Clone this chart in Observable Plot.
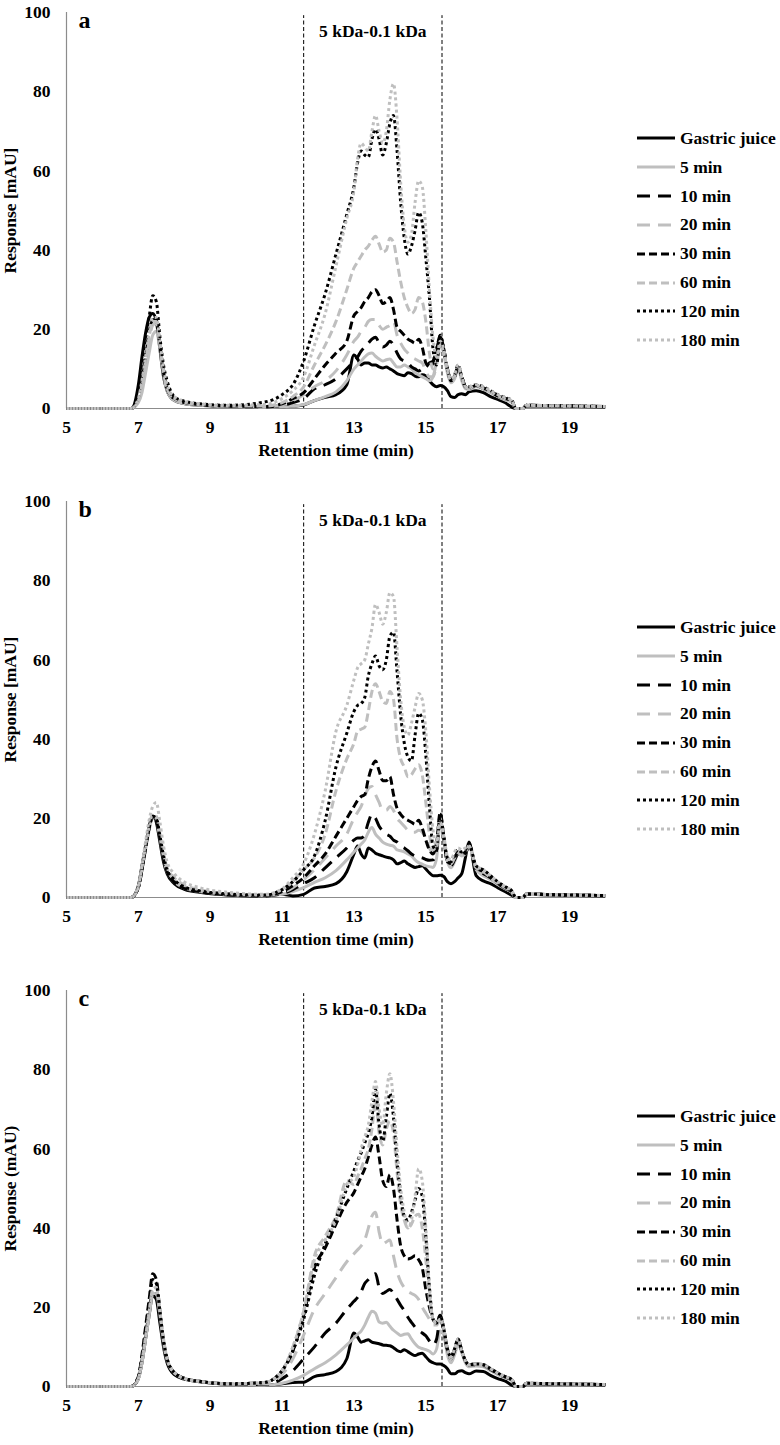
<!DOCTYPE html>
<html><head><meta charset="utf-8">
<script src="https://cdn.jsdelivr.net/npm/d3@7"></script>
<script src="https://cdn.jsdelivr.net/npm/@observablehq/plot@0.6"></script>
<style>
body{margin:0;background:#fff;}
#chart{width:780px;position:relative;font-family:"Liberation Serif","Times New Roman",serif;font-weight:bold;color:#000;}
.panel{position:relative;width:780px;overflow:hidden;}
.legend{position:absolute;left:637px;top:124px;font-size:17.5px;}
.legend .row{height:28.85px;display:flex;align-items:center;white-space:nowrap;}
.legend svg{display:block;margin-right:5px;}
</style></head><body><div id="chart"></div>
<script>
// ---------- data ----------
const times = [5, 6.8, 7.0, 7.1, 7.2, 7.3, 7.4, 7.5, 7.6, 7.7, 7.8, 8.0, 8.3, 8.7, 9.5, 10.5,
  11.0, 11.3, 11.6, 11.9, 12.2, 12.5, 12.8,
  13.0, 13.1, 13.2, 13.3, 13.4, 13.5, 13.6, 13.7, 13.8, 13.9, 14.0, 14.1, 14.2, 14.3, 14.4, 14.5, 14.6, 14.7, 14.8, 14.9, 15.0, 15.1, 15.2, 15.3, 15.4, 15.5, 15.6, 15.7, 15.8, 15.9, 16.0, 16.1, 16.2,
  16.4, 16.6, 16.8, 17.0, 17.2, 17.4, 17.5, 17.7, 17.8, 18.5, 19.2, 20];

const seriesNames = ["Gastric juice", "5 min", "10 min", "20 min", "30 min", "60 min", "120 min", "180 min"];
const panelLetters = ["a", "b", "c"];
const yTitles = ["Response [mAU]", "Response [mAU]", "Response (mAU)"];
const xTitle = "Retention time (min)";
const regionBounds = [11.6, 15.45];
const regionLabel = "5 kDa-0.1 kDa";
const xTicks = [5, 7, 9, 11, 13, 15, 17, 19];
const yTicks = [0, 20, 40, 60, 80, 100];

// panel a
const a_gastric = [0,0,6,13,19,23,24,22,15,8,4.5,2,1.2,0.8,0.5,0.3, 0.4,0.6,0.9,2,2.8,3.5,6,
  13.5,12.5,11,11.5,11.5,11,11,10.5,10.2,10.5,10,9.5,8.8,8.5,8.3,9,8.8,8.2,8,8.5,8.2,7,6,5.5,5.8,5.5,4.5,3,2.8,3.5,3.7,3.5,4.2,
  4.5,4,3,2.3,1.5,0.3,0,0,0.7,0.6,0.5,0.4];
const a_5 = [0,0,1.5,4,9,14,18.5,19.5,15,8.5,4.5,2,1.2,0.8,0.5,0.3, 0.4,0.6,1,2,3,4.2,7,
  10,11,12,13,13.8,14,13.2,12.5,12,12.3,12.5,11.5,10.5,10.5,11,10.5,10,9,8.5,8,7.5,7,8,12,16,14,9,6.5,7.5,10,7,5,4.8,
  5.5,5,4,3,2.2,1.5,0,0,0.8,0.7,0.6,0.5];
const a_10 = [0,0,2.5,7,13,19,22.5,22,16,9,5,2.5,1.5,1,0.6,0.4, 0.8,1.5,2.5,5,6,7.5,10,
  12,13,14.5,15.5,16.5,17.5,18,16.5,15.5,16,17,16,14,12.5,12,11.5,10.5,10,9.5,10,10.5,11.5,12,15,18,15,10,7,8,10.5,8,5.5,5,
  5.8,5,4.2,3.2,2.5,1.8,0,0,0.8,0.7,0.6,0.5];
const a_20 = [0,0,2,5.5,11,17,21,21.5,16,9,5,2.5,1.5,1,0.6,0.4, 1,2,3.5,5.5,7,9.5,13.5,
  17,18,19.5,20.5,22,22.5,22.5,21,20,20.5,21,22,18.5,16.5,15,14,13,12.5,12,11.5,9.5,8,8,11,15,14,9.5,7,8,10.5,7.5,5.5,5,
  5.8,5,4.2,3.2,2.5,1.8,0,0,0.8,0.7,0.6,0.5];
const a_30 = [0,0,2.5,7,13,19,22.5,22,16,9,5,2.5,1.5,1,0.6,0.5, 1.2,2.5,4,7.5,11,14,17,
  23.5,24.5,25.5,27,28,29.5,30,28.5,26.5,27,28,25,20.5,19.5,18.5,17.5,17,16.5,17.5,15.5,11.5,10.5,11.5,15,18.5,15,10,7,8,10.5,8,5.5,5,
  5.8,5.2,4.3,3.3,2.6,1.8,0,0,0.8,0.7,0.6,0.5];
const a_60 = [0,0,2,6,12,18,22,22,16,9,5,2.5,1.5,1,0.6,0.6, 1.5,3,5.5,11,16,22,30,
  35.5,37,38.5,40,41,42.5,43.5,41.5,39.5,40,43,42,37,32,28,25.5,24,25,28,27,22,14,10,12,16,14,9.5,7,8,10.5,7.5,5.5,5,
  5.8,5,4.2,3.2,2.5,1.8,0,0,0.8,0.7,0.6,0.5];
const a_120 = [0,0,3,9,16,23,28.5,27,18,11,7,3,1.8,1.2,0.8,1.6, 3.5,6,12,21,29,39,49,
  56,62,65,64,63.5,68,70.5,68,64,67,72,74,65,52,43,39,41,45,49.5,47,38,28,15,11,18.5,15,10,7.5,8.5,11,8,5.5,5.5,
  6,5.5,4.5,3.5,2.8,2,0,0,0.8,0.7,0.6,0.5];
const a_180 = [0,0,2.5,7,13,19,23,23,17,10,6,3,1.8,1.2,0.8,1, 2.5,4.5,8,16,24,36,48,
  55,63,67,66,65,70,74,70,67,70,78,82,73,57,46,42,44,52,57.5,56,45,30,18,13,17,15,10,7.5,8.5,11,8,5.5,5.5,
  6,5.5,4.5,3.5,2.8,2,0,0,0.8,0.7,0.6,0.5];

// panel b
const b_gastric = [0,0,3,8,13,18,20.5,19,14,9,6,3.5,2,1.3,0.6,0.3, 0.8,0.4,0.8,2.4,2.8,3.5,6.5,
  11,13,11,10,12.5,12,11.2,10.8,10.5,10.2,10,9.5,8.5,8.8,9.2,8.5,8,7.6,7.8,8,7.2,6.2,5.5,5.5,5.6,5.3,4,3.5,4,5,6,10,14,
  5.5,4.2,3.5,2.5,1.5,0.5,0,0,0.8,0.6,0.5,0.4];
const b_5 = [0,0,2.5,7,12,17,20,19.5,15,10,6.5,4,2.3,1.5,0.7,0.4, 0.8,1.5,2.5,3.8,5,6.8,9.5,
  11.5,12.5,13.5,14.5,16.5,17.7,16,15,14,13.5,13.2,13,12,11.8,11.5,11,10.5,9.5,8.8,8.4,8,7.8,7.6,10,19,15,9,7.5,9,11,10.5,11,13,
  7,5.5,4.5,3.3,2.2,1.2,0,0,0.9,0.7,0.6,0.5];
const b_10 = [0,0,2.5,7,12.5,17.5,20.5,19.5,15,10,6.5,4,2.3,1.5,0.7,0.4, 1,2,3.5,5,7.5,10,12.5,
  14.5,15,15,16,19,21,20,18,16.8,16,15.5,14.5,14,13,12.5,11.8,11,10.5,10.2,10,9.6,9.4,9.5,12,20,15,9,8,9.5,11,10.5,11,13,
  7,6,5,3.5,2.4,1.3,0,0,0.9,0.7,0.6,0.5];
const b_20 = [0,0,2.5,7,12.5,17.5,20.5,20,15.5,10.5,7,4.5,2.5,1.6,0.8,0.5, 1.2,2.5,4.5,7,10,13,16,
  20,21.5,23,25.5,27.5,28,26,24,22,22,23,22,20,19,18,17,16.5,16.5,17,16.5,15,12.5,11,13,20,15,9.5,8.5,10,11.5,11,11.5,13,
  7.5,6.5,5,3.6,2.5,1.4,0,0,0.9,0.7,0.6,0.5];
const b_30 = [0,0,2.5,7,12.5,17.5,20.5,19.5,15,10,6.5,4,2.3,1.5,0.7,0.5, 1.5,3,5,8,11,15.5,20,
  23,24.5,25.5,26,30,33,34.5,32,29.5,29.5,30.5,26,22.5,21,20,19.5,19,18.5,19.5,17.5,14.5,12,11,14,21.5,15,9,8.5,10,11.5,11,11.5,13.5,
  7.5,6.5,5,3.6,2.5,1.4,0,0,0.9,0.7,0.6,0.5];
const b_60 = [0,0,2.5,7.5,13,18,21,20.5,16,11,7.5,5,3,2,1,0.6, 2,4,7,10,16,27,35,
  39,42,42.5,43,47,52,54,52,49.5,49,52,50,40,35,33,30.5,31,32.5,33.5,31,24,16,12,14,20,15,9.5,8.5,10,11.5,11,11.5,13,
  7.5,6.5,5,3.6,2.5,1.4,0,0,0.9,0.7,0.6,0.5];
const b_120 = [0,0,2.5,7,12.5,17.5,20.5,20,15.5,10.5,7,4.5,2.6,1.7,0.9,0.6, 2,4,7,10.5,19.5,33,41.5,
  47,48.5,49,50.5,56,59,61,58.5,57.5,60,66,67,57,46,39,35.5,34.5,41,46.5,45,36,23,13,12,21,15.5,10,9,11,12,11.5,12,13.5,
  8,7,5.5,4,2.8,1.6,0,0,0.9,0.7,0.6,0.5];
const b_180 = [0,0,3,8,14,19.5,23,24,19,13,9,6,3.8,2.5,1.3,0.8, 2.2,5,8.5,16,27,42,48.5,
  55,58,59,60,64,68,74,72,69,72,77,76,63,50,43,41,44,48,51.5,50,42,28,17,13,19,15.5,10.5,9.5,11.5,12.5,12,12.5,13,
  8,7,5.5,4,2.8,1.6,0,0,0.9,0.7,0.6,0.5];

// panel c
const c_gastric = [0,0,2,6,12,18,23,22,16,10,6,3,1.8,1.2,0.6,0.3, 0.7,1,1.1,2.5,3,3.8,7,
  13.5,12.5,11.2,11.5,11.8,11.2,11,10.8,10.5,10.4,10.3,9.8,9.1,8.8,9.3,8.8,8.2,7.8,8.2,8.4,7.5,6.5,6,5.7,5.7,5.3,4.5,3.2,3.2,3.8,4,3.5,3.2,
  3.9,3.8,2.8,2,1.4,0.3,0,0,0.6,0.5,0.5,0.4];
const c_5 = [0,0,2,6,12,18,23.5,23.5,18,11,6.5,3.5,2,1.3,0.6,0.3, 0.8,1.6,2.8,4.5,6,8,10.5,
  12.3,13.2,14,15.5,17.5,19,18.5,16.3,16,16.2,15.2,14.2,13.5,12.9,13.2,13.3,12,10.8,9.9,9.6,9.3,8.9,8.2,9.5,14,13,8,6,8,10.5,8.5,6,5,
  5.2,5,4,3,2.2,1.4,0,0,0.7,0.6,0.5,0.5];
const c_10 = [0,0,2,6.5,12.5,19,24,24,18,11,6.5,3.5,2,1.3,0.6,0.5, 2,4,7,10,13.5,16,19.5,
  21.5,22.5,24,26,27,28,28.5,25,23.5,24,24.5,23.5,22,20.5,19.2,17.5,16.2,15,14.2,13.5,12.8,11.5,10.5,12,17,14,9,7,9,11.5,9,6.5,5.5,
  5.5,5.3,4.3,3.2,2.4,1.6,0,0,0.8,0.7,0.6,0.5];
const c_20 = [0,0,2,6,12,18,23.5,24,18.5,11.5,7,3.5,2,1.3,0.6,0.6, 3,7,13,19.5,23.5,27.5,31.5,
  33.5,34.5,35.5,37,40,43,44,39,36,36.5,37,33,29,26.5,25,24,23.5,23,22,20,18.5,17,15.5,15.5,17,14,9,7,9,11.5,9,6.5,5.5,
  5.5,5.3,4.3,3.2,2.4,1.6,0,0,0.8,0.7,0.6,0.5];
const c_30 = [0,0,2.5,8,15,22,28.5,27,19,11.5,7,3.5,2,1.3,0.7,1, 4,9,18,30,35,41,46.5,
  49,51,53,55,58,61,63,58,52,50.5,53.5,50,42,35.5,33,32.2,32.5,33,32,30,24.5,20,17,16,18,14.5,9.5,7.5,9.5,12,9,6.5,5.5,
  5.7,5.5,4.5,3.4,2.5,1.7,0,0,0.8,0.7,0.6,0.5];
const c_60 = [0,0,2,6.5,12.5,19,24.5,25,19,12,7,3.5,2,1.3,0.7,0.9, 4,10,19,33,38,43,52,
  51,53,55,57.5,60,65,72,64,61,65,67,64,54,46,42,40,41,43,43.5,40,32,22,17,16,17,14.5,9.5,7.5,9.5,12,9,6.5,5.5,
  5.7,5.5,4.5,3.4,2.5,1.7,0,0,0.8,0.7,0.6,0.5];
const c_120 = [0,0,2.5,7.5,14,21,27,26,19,11.5,7,3.5,2,1.3,0.7,1, 4,9,17,28,36,42.5,50,
  54.5,57,59,61.5,64,68,75,66,62,68,74,68,57,48,43,42,44,47,50,48,38,25,17,16,18,14.5,9.5,7.5,9.5,12,9,6.5,5.5,
  5.7,5.5,4.5,3.4,2.5,1.7,0,0,0.8,0.7,0.6,0.5];
const c_180 = [0,0,2,6.5,12.5,19,24.5,25,19,12,7,3.5,2,1.3,0.7,1, 4,10,19,32,37,42,51,
  53,56,60,63,66,72,77,70,66,74,79,72,60,50,44,40,42,48,55,52,40,25,17,16,17,14.5,9.5,7.5,9.5,12,9,6.5,5.5,
  5.7,5.5,4.5,3.4,2.5,1.7,0,0,0.8,0.7,0.6,0.5];

// ---------- styles ----------
const GRAY = "#bfbfbf";
const seriesStyles = [
  {stroke: "#000", dash: null, cap: "butt"},
  {stroke: GRAY, dash: null, cap: "butt"},
  {stroke: "#000", dash: "13,8", cap: "butt"},
  {stroke: GRAY, dash: "13,8", cap: "butt"},
  {stroke: "#000", dash: "8,4", cap: "butt"},
  {stroke: GRAY, dash: "8,4", cap: "butt"},
  {stroke: "#000", dash: "3,3", cap: "butt"},
  {stroke: GRAY, dash: "3,3", cap: "butt"}
];

const panelSeries = [
  [a_gastric, a_5, a_10, a_20, a_30, a_60, a_120, a_180],
  [b_gastric, b_5, b_10, b_20, b_30, b_60, b_120, b_180],
  [c_gastric, c_5, c_10, c_20, c_30, c_60, c_120, c_180]
];
const panelHeights = [489, 489, 467];
const FONT = "'Liberation Serif','Times New Roman',serif";

const chart = document.getElementById("chart");

panelSeries.forEach((seriesList, p) => {
  const H = panelHeights[p];
  const lineMarks = seriesList.map((vals, i) => {
    const st = seriesStyles[i];
    const rows = times.map((t, j) => ({t, v: vals[j], s: seriesNames[i]}));
    return Plot.line(rows, {
      x: "t", y: "v",
      stroke: st.stroke, strokeWidth: 3,
      strokeDasharray: st.dash || undefined,
      strokeLinecap: st.cap, strokeLinejoin: "round",
      curve: "monotone-x"
    });
  });
  const mid = (regionBounds[0] + regionBounds[1]) / 2;
  const svg = Plot.plot({
    width: 780, height: H,
    marginLeft: 66, marginRight: 175, marginTop: 12, marginBottom: H - 408,
    style: {fontFamily: FONT, fontSize: "17.5px", fontWeight: "bold", background: "white", color: "black", overflow: "visible"},
    x: {domain: [5, 20], ticks: xTicks, tickSize: 0, tickPadding: 12, tickFormat: d => String(d),
        label: xTitle, labelAnchor: "center", labelOffset: 47, labelArrow: "none"},
    y: {domain: [0, 100], ticks: yTicks, tickSize: 0, tickPadding: 16, tickFormat: d => String(d),
        label: yTitles[p], labelAnchor: "center", labelOffset: 63, labelArrow: "none"},
    marks: [
      Plot.ruleX(regionBounds, {y1: 0, y2: 99.2, stroke: "#000", strokeWidth: 1, strokeDasharray: "4,2.5"}),
      Plot.ruleY([0], {stroke: "#8c8c8c", strokeWidth: 1.2}),
      Plot.ruleX([5], {stroke: "#8c8c8c", strokeWidth: 1.2}),
      ...lineMarks,
      Plot.text([{x: mid, label: regionLabel}], {x: "x", text: "label", frameAnchor: "top", dy: 18.5, lineAnchor: "middle", fontSize: 17.5, fontWeight: "bold", fill: "#000"}),
      Plot.text([panelLetters[p]], {text: d => d, frameAnchor: "top-left", dx: 12, dy: -2, lineAnchor: "top", textAnchor: "start", fontSize: 24, fontWeight: "bold", fill: "#000"})
    ]
  });

  const panel = document.createElement("div");
  panel.className = "panel";
  panel.style.height = H + "px";
  panel.appendChild(svg);

  // legend
  const legend = d3.select(panel).append("div").attr("class", "legend");
  seriesNames.forEach((name, i) => {
    const st = seriesStyles[i];
    const row = legend.append("div").attr("class", "row");
    const s = row.append("svg").attr("width", 38).attr("height", 8);
    s.append("line").attr("x1", 0).attr("x2", 38).attr("y1", 4).attr("y2", 4)
      .attr("stroke", st.stroke).attr("stroke-width", 3)
      .attr("stroke-dasharray", st.dash || null).attr("stroke-linecap", st.cap);
    row.append("span").text(name);
  });

  chart.appendChild(panel);
});
</script></body></html>
